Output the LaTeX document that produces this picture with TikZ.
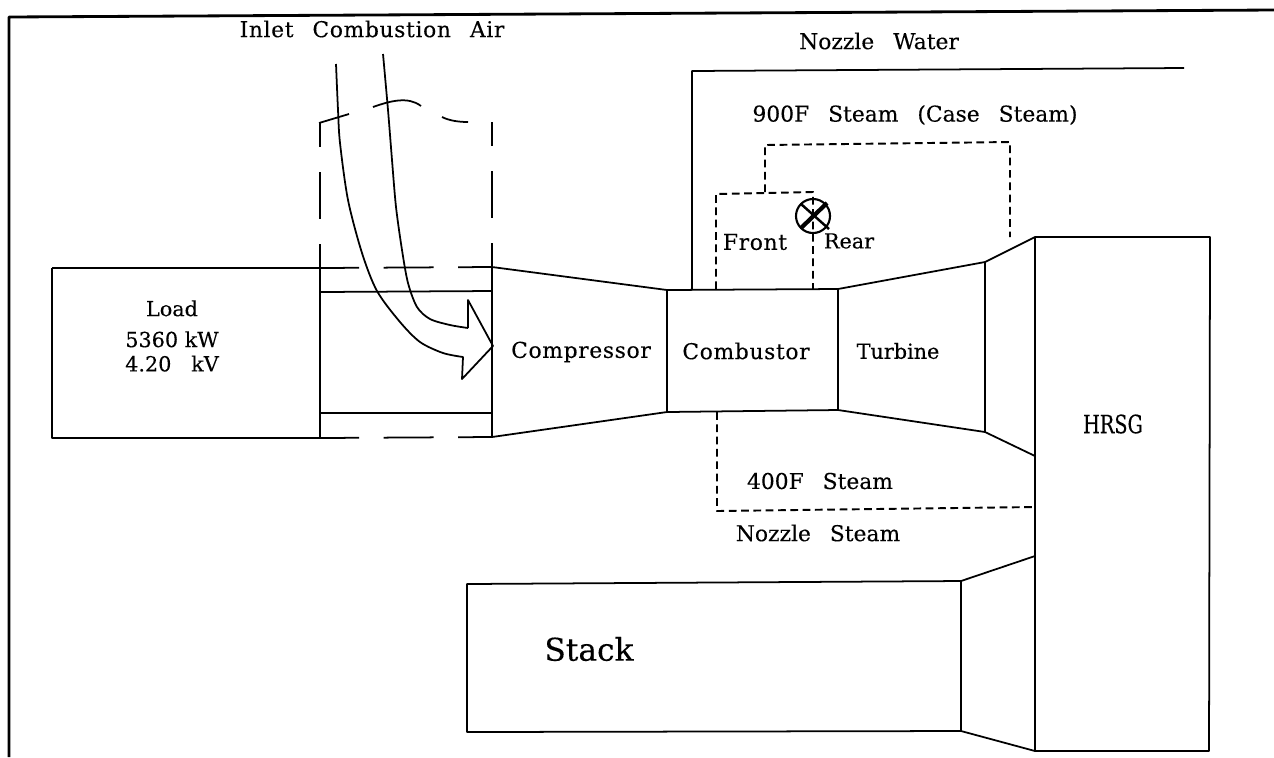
\documentclass[tikz,border=0pt]{standalone}
\usepackage{fontspec}
\setmainfont{DejaVu Serif}
\newfontfamily\wideword[LetterSpace=3, FakeBold=0.2]{DejaVu Serif}
\newfontfamily\plainword[FakeBold=0.2]{DejaVu Serif}
\newfontfamily\tallword[FakeStretch=0.76, FakeBold=0.2]{DejaVu Serif}
\newcommand{\widegaps}{\spaceskip=5.4pt\relax}
\begin{document}
\begin{tikzpicture}[x=0.01cm, y=-0.01cm, line width=0.5pt, line join=round,
    % Define the styles for the labels and the steam pipes
    label text/.style={font=\plainword\fontsize{6.2pt}{6.9pt}\selectfont\widegaps, text=black, inner sep=0pt, align=center},
    wide text/.style={label text, font=\wideword\fontsize{6.2pt}{6.9pt}\selectfont\widegaps},
    plain text/.style={label text, font=\plainword\fontsize{5.9pt}{6.9pt}\selectfont},
    hrsg text/.style={label text, font=\tallword\fontsize{7.2pt}{8pt}\selectfont},
    big text/.style={label text, font=\plainword\fontsize{8.9pt}{10pt}\selectfont},
    steam pipe/.style={dash pattern=on 2.2pt off 1.3pt, line width=0.55pt},
    duct up/.style={dash pattern=on 13.4pt off 7.1pt, dash phase=6.5pt},
    duct across/.style={dash pattern=on 14.2pt off 7pt, dash phase=3.1pt}
]
\useasboundingbox (0,0) rectangle (1274,757);

% Define the points of the machine
\coordinate (LT) at (52,268);
\coordinate (LB) at (52,438);
\coordinate (DT) at (320,268);
\coordinate (DB) at (320,438);
\coordinate (CT) at (492,267);
\coordinate (CB) at (492,437);
\coordinate (MT) at (667,290);
\coordinate (MB) at (667,412);
\coordinate (TT) at (838,289);
\coordinate (TB) at (838,410);
\coordinate (ET) at (985,262);
\coordinate (EB) at (985,432);
\coordinate (HT) at (1035,237);
\coordinate (HB) at (1035,456);
\coordinate (HRT) at (1210,237);
\coordinate (HRB) at (1209,751);
\coordinate (HL) at (1035,751);

% Define the points of the stack
\coordinate (ST) at (467,584);
\coordinate (SB) at (467,732);
\coordinate (SRT) at (961,581);
\coordinate (SRB) at (961,731);
\coordinate (SHT) at (1035,556);

% Draw the frame
\draw[line width=0.8pt] (9,757) -- (9,17) -- (1274,10);

% Draw the lines
\draw (DT) -- (DB);
\draw (LT) -- (LB) -- (DB);
\draw (LT) -- (DT);
\draw (CT) -- (CB);
\draw (320,292) -- (492,291);
\draw (320,413) -- (492,413);
\draw (CT) -- (MT) -- (MB) -- (CB);
\draw (MT) -- (TT) -- (TB) -- (MB);
\draw (TT) -- (ET) -- (EB) -- (TB);
\draw (ET) -- (HT) -- (HRT) -- (HRB) -- (HL) -- (HT);
\draw (EB) -- (HB);
\draw (ST) -- (SRT) -- (SRB) -- (SB) -- cycle;
\draw (SRT) -- (SHT);
\draw (SRB) -- (HL);

% Draw the inlet duct
\draw[duct across] (DT) -- (CT);
\draw[duct across] (DB) -- (CB);
\draw[duct up] (320,123) -- (DT);
\draw[duct up] (492,122) -- (CT);
\draw (319,123) -- (349,114);
\draw (373,107) .. controls (390,101) and (408,96) .. (421,106);
\draw (442,117) .. controls (450,121) and (460,122) .. (468,122);

% Draw the air arrow
\draw plot[smooth] coordinates {(336,64) (338,110) (340,143) (348,200) (362,253) (377,291) (400,322) (420,342) (443,353) (463,357)}
    -- (462,379) -- (493,346) -- (468,300) -- (468,328)
    plot[smooth] coordinates {(468,328) (450,325) (430,319) (417,307) (408,283) (402,250) (396,207) (392,160) (388,110) (383,54)};

% Draw the water and steam pipes
\draw (692,290) -- (692,71) -- (1184,68);
\draw[steam pipe] (765,192) -- (765,145) -- (1010,142) -- (1010,237);
\draw[steam pipe] (716,289) -- (716,194) -- (813,192) -- (813,289);
\draw[steam pipe] (717,412) -- (717,511) -- (1035,507);

% Draw the valve
\node[circle, draw, minimum size=0.34cm, inner sep=0pt, line width=0.6pt] (valve) at (813,216) {};
\draw[line width=0.7pt] (801,204) -- (829,229);
\draw[line width=1.2pt] (801,228) -- (827,203);

% Add the labels
\node[wide text] (inlet) at (372,29) {Inlet Combustion Air};
\node[label text] (water) at (879,41) {Nozzle Water};
\node[label text] (case) at (915,115) {900F Steam (Case Steam)};
\node[wide text] (front) at (755,242) {Front};
\node[plain text] (rear) at (849,241) {Rear};
\node[plain text] (load) at (172,336) {Load\\[1.9pt]5360 kW\\[0pt]4.20\ \ \ kV};
\node[wide text] (compressor) at (581,352) {Compressor};
\node[wide text] (combustor) at (746,351) {Combustor};
\node[plain text] (turbine) at (898,351) {Turbine};
\node[label text] (low) at (820,481) {400F Steam};
\node[label text] (nozzle) at (818,533) {Nozzle Steam};
\node[hrsg text] (hrsg) at (1113,424) {HRSG};
\node[big text] (stack) at (589,649) {Stack};

\end{tikzpicture}
\end{document}
